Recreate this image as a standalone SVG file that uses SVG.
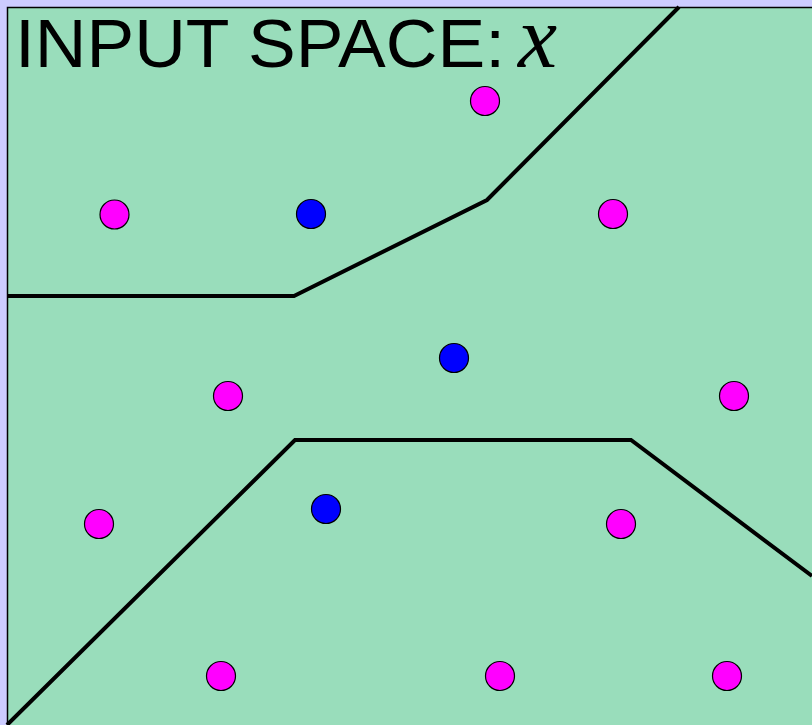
<svg xmlns="http://www.w3.org/2000/svg" width="812" height="725" viewBox="0 0 812 725">
<style>
.m{fill:#FF00FF;stroke:#000;stroke-width:1.2}
.b{fill:#0000FF;stroke:#000;stroke-width:1.2}
.ln{fill:none;stroke:#000;stroke-width:4;stroke-linejoin:miter}
</style>
<rect x="0" y="0" width="812" height="725" fill="#CCCCFF"/>
<rect x="7.5" y="7.5" width="820" height="730" fill="#99DDBB" stroke="#000" stroke-width="1.5"/>
<text x="15" y="67" font-family="Liberation Sans, sans-serif" font-size="68" textLength="490" lengthAdjust="spacingAndGlyphs">INPUT SPACE:</text>
<text x="518" y="67" font-family="Liberation Serif, serif" font-style="italic" font-size="88">x</text>
<g id="connectors">
<polyline class="ln" points="7,296 294,296 487,200 679,7"/>
<polyline class="ln" points="7,725 295,440 631,440 812,576"/>
</g>
<g id="m1"><circle class="m" cx="485" cy="101" r="14.5"/></g>
<g id="m2"><circle class="m" cx="114.5" cy="214.5" r="14.5"/></g>
<g id="m3"><circle class="m" cx="613" cy="214" r="14.5"/></g>
<g id="m4"><circle class="m" cx="228" cy="396" r="14.5"/></g>
<g id="m5"><circle class="m" cx="734" cy="396" r="14.5"/></g>
<g id="m6"><circle class="m" cx="99" cy="524" r="14.5"/></g>
<g id="m7"><circle class="m" cx="621" cy="524" r="14.5"/></g>
<g id="m8"><circle class="m" cx="221" cy="676" r="14.5"/></g>
<g id="m9"><circle class="m" cx="500" cy="676" r="14.5"/></g>
<g id="m10"><circle class="m" cx="727" cy="676" r="14.5"/></g>
<g id="b1"><circle class="b" cx="311" cy="214" r="14.5"/></g>
<g id="b2"><circle class="b" cx="454" cy="358" r="14.5"/></g>
<g id="b3"><circle class="b" cx="326" cy="509" r="14.5"/></g>
</svg>
